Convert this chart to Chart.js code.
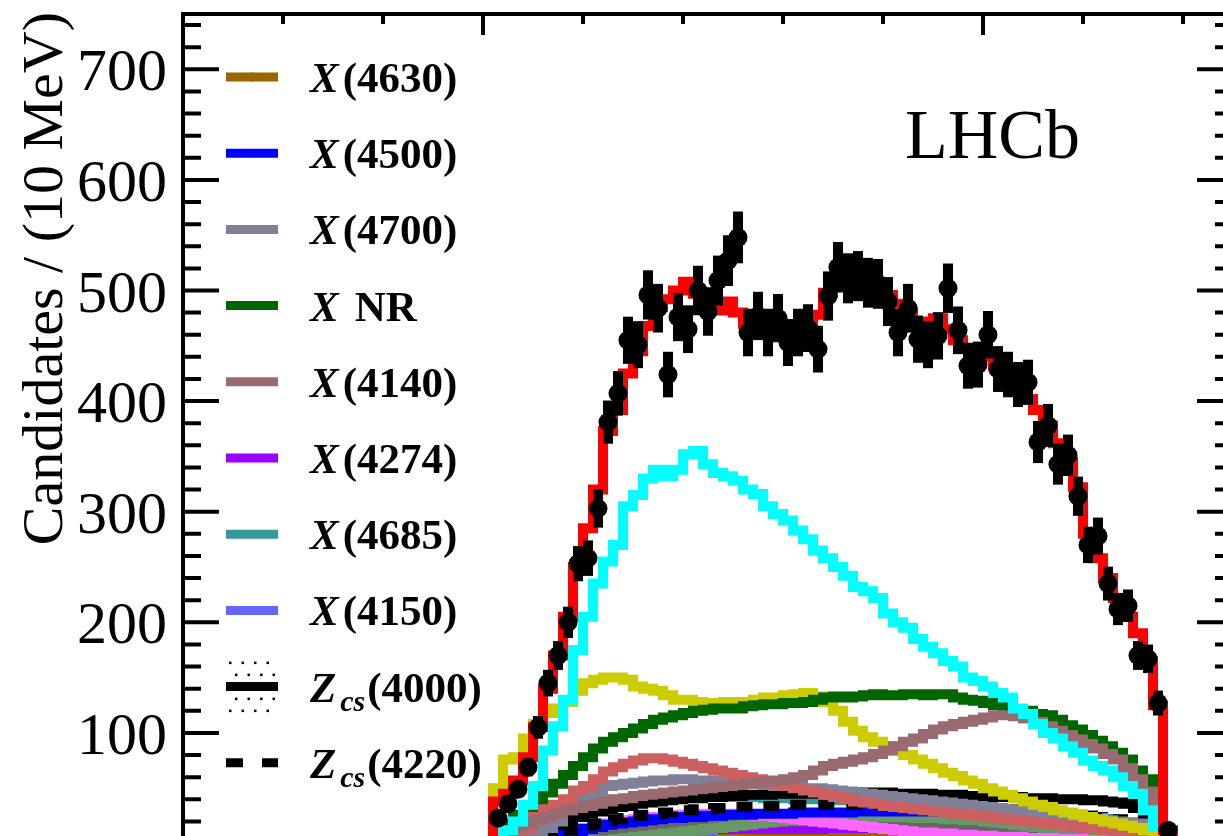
<!DOCTYPE html>
<html>
<head>
<meta charset="utf-8">
<script src="https://cdn.jsdelivr.net/npm/chart.js@4.4.0/dist/chart.umd.min.js"></script>
<style>
  html, body { margin: 0; padding: 0; background: #fff; overflow: hidden; }
  canvas { display: block; }
</style>
</head>
<body>
<canvas id="massPlot" width="1260" height="880"></canvas>
<script>
// m(phi K+) binning, 10 MeV bins (GeV)
var binEdges = [1.51, 1.52, 1.53, 1.54, 1.55, 1.56, 1.57, 1.58, 1.59, 1.60,
  1.61, 1.62, 1.63, 1.64, 1.65, 1.66, 1.67, 1.68, 1.69, 1.70,
  1.71, 1.72, 1.73, 1.74, 1.75, 1.76, 1.77, 1.78, 1.79, 1.80,
  1.81, 1.82, 1.83, 1.84, 1.85, 1.86, 1.87, 1.88, 1.89, 1.90,
  1.91, 1.92, 1.93, 1.94, 1.95, 1.96, 1.97, 1.98, 1.99, 2.00,
  2.01, 2.02, 2.03, 2.04, 2.05, 2.06, 2.07, 2.08, 2.09, 2.10,
  2.11, 2.12, 2.13, 2.14, 2.15, 2.16, 2.17, 2.18, 2.19];

var dataCounts = [23, 36, 49, 69, 105, 145, 170, 200, 253, 258,
  303, 381, 407, 455, 451, 496, 484, 424, 476, 465,
  500, 481, 509, 527, 548, 462, 477, 462, 475, 453,
  462, 466, 447, 495, 521, 511, 513, 507, 506, 490,
  462, 484, 456, 451, 459, 502, 464, 432, 433, 460,
  429, 424, 415, 417, 363, 378, 343, 351, 314, 270,
  278, 235, 212, 215, 170, 167, 127, 12];

var fitTotal = [38, 45, 57, 78, 105, 140, 170, 205, 250, 285,
  320, 373, 392, 425, 445, 468, 485, 492, 500, 508,
  497, 488, 482, 490, 480, 470, 478, 468, 465, 460,
  460, 465, 478, 498, 506, 510, 512, 508, 505, 496,
  488, 480, 472, 470, 475, 465, 455, 448, 445, 440,
  432, 425, 412, 402, 392, 378, 362, 345, 322, 280,
  258, 240, 222, 205, 190, 165, 125, 12];

// K* components
var kstarCyan = [5, 12, 20, 35, 52, 84, 106, 130, 175, 205,
  235, 255, 270, 305, 315, 330, 338, 332, 338, 352,
  355, 343, 335, 332, 328, 320, 316, 305, 298, 292,
  283, 275, 265, 258, 250, 242, 232, 228, 222, 208,
  200, 195, 185, 178, 172, 165, 160, 150, 147, 142,
  136, 132, 122, 117, 108, 100, 95, 88, 82, 75,
  70, 66, 60, 52, 45, 30, 15, 2];

var kstarYellow = [50, 76, 78, 95, 108, 118, 122, 128, 138, 145,
  148, 150, 150, 148, 142, 140, 138, 134, 130, 130,
  128, 127, 127, 128, 128, 128, 130, 132, 132, 134,
  135, 136, 133, 128, 120, 110, 102, 96, 92, 88,
  84, 80, 76, 72, 68, 64, 61, 57, 54, 50,
  47, 44, 41, 38, 35, 33, 30, 28, 26, 24,
  22, 20, 18, 16, 14, 12, 9, 1];

var kstarRed = [3, 8, 10, 13, 28, 32, 35, 40, 48, 52,
  58, 65, 69, 72, 75, 77, 77, 76, 74, 72,
  70, 68, 66, 64, 62, 60, 58, 56, 54, 52,
  50, 48, 46, 44, 42, 40, 38, 37, 36, 34,
  33, 32, 31, 30, 29, 28, 27, 26, 25, 24,
  23, 22, 21, 20, 19, 18, 17, 16, 15, 14,
  13, 12, 11, 10, 9, 8, 6, 1];

var kstarMagenta = [0, 1, 2, 3, 4, 6, 8, 10, 12, 14,
  16, 18, 20, 21, 22, 23, 24, 25, 26, 26,
  27, 27, 27, 27, 26, 26, 25, 25, 24, 23,
  22, 21, 20, 19, 18, 17, 16, 15, 14, 13,
  12, 11, 10, 10, 9, 9, 8, 8, 7, 7,
  6, 6, 6, 5, 5, 5, 4, 4, 4, 3,
  3, 3, 2, 2, 2, 1, 1, 0];

var kstarGray = [0, 1, 2, 3, 4, 5, 6, 7, 8, 9,
  10, 11, 12, 13, 14, 15, 16, 16, 17, 17,
  18, 18, 19, 19, 19, 19, 19, 20, 20, 20,
  20, 20, 20, 20, 20, 20, 20, 19, 19, 19,
  19, 18, 18, 18, 17, 17, 17, 16, 16, 16,
  15, 15, 15, 14, 14, 14, 13, 13, 12, 12,
  11, 11, 10, 10, 9, 8, 6, 0];

var kstarSage = [0, 0, 0, 0, 0, 0, 1, 1, 2, 2,
  3, 3, 4, 5, 6, 7, 8, 9, 10, 11,
  12, 13, 14, 15, 16, 17, 18, 19, 20, 21,
  22, 23, 23, 24, 24, 24, 24, 24, 24, 24,
  24, 24, 23, 23, 23, 22, 22, 21, 21, 20,
  19, 18, 17, 16, 15, 14, 13, 12, 11, 10,
  9, 8, 7, 6, 5, 4, 2, 0];

// X and Zcs components
var x4630 = [0, 0, 1, 1, 2, 3, 4, 5, 6, 8,
  9, 11, 12, 13, 14, 15, 15, 15, 15, 14,
  14, 13, 13, 12, 12, 11, 11, 10, 10, 9,
  9, 9, 8, 8, 8, 8, 8, 8, 8, 8,
  8, 8, 8, 8, 8, 8, 8, 8, 8, 8,
  8, 8, 8, 8, 8, 8, 8, 8, 8, 8,
  8, 8, 8, 7, 7, 6, 4, 0];

var x4500 = [0, 1, 1, 2, 3, 5, 7, 9, 11, 13,
  15, 17, 18, 19, 20, 21, 22, 23, 23, 24,
  24, 25, 25, 26, 26, 26, 27, 27, 27, 27,
  28, 28, 28, 28, 28, 28, 29, 29, 29, 29,
  29, 29, 29, 29, 29, 29, 29, 29, 29, 29,
  29, 29, 28, 28, 28, 28, 27, 27, 26, 25,
  24, 22, 20, 18, 15, 12, 7, 0];

var x4700 = [2, 4, 6, 8, 10, 14, 20, 30, 40, 43,
  45, 52, 53, 54, 55, 56, 57, 57, 58, 58,
  57, 57, 56, 56, 55, 55, 54, 53, 52, 52,
  51, 50, 50, 49, 48, 47, 46, 45, 44, 43,
  42, 41, 40, 39, 38, 37, 36, 35, 34, 33,
  32, 31, 30, 29, 28, 27, 26, 25, 24, 23,
  22, 21, 20, 19, 18, 16, 14, 1];

var xNR = [8, 18, 26, 33, 40, 46, 54, 62, 70, 78,
  86, 92, 96, 100, 104, 108, 112, 114, 116, 118,
  120, 121, 122, 122, 122, 124, 125, 126, 126, 127,
  127, 128, 130, 132, 133, 132, 133, 134, 135, 134,
  134, 135, 135, 134, 135, 135, 132, 130, 129, 127,
  125, 122, 121, 120, 117, 116, 112, 107, 103, 98,
  93, 88, 82, 76, 66, 58, 48, 2];

var x4140 = [5, 10, 14, 18, 21, 24, 27, 30, 32, 34,
  36, 38, 40, 41, 43, 44, 45, 46, 47, 48,
  49, 50, 51, 52, 53, 54, 55, 56, 57, 58,
  60, 62, 66, 70, 72, 74, 76, 78, 81, 84,
  88, 92, 95, 99, 103, 106, 108, 110, 112, 114,
  116, 116, 115, 113, 110, 106, 102, 98, 94, 90,
  86, 81, 76, 68, 58, 47, 38, 2];

var x4274 = [0, 0, 1, 1, 2, 3, 4, 5, 6, 7,
  8, 9, 10, 10, 11, 11, 12, 12, 12, 12,
  13, 13, 13, 13, 13, 13, 13, 13, 13, 13,
  13, 13, 13, 14, 14, 14, 14, 14, 14, 14,
  15, 15, 15, 15, 16, 16, 16, 17, 17, 17,
  18, 18, 18, 18, 19, 19, 19, 18, 18, 17,
  16, 15, 14, 12, 10, 8, 5, 0];

var x4685 = [1, 3, 6, 10, 14, 18, 22, 25, 28, 31,
  33, 35, 37, 39, 40, 41, 42, 42, 43, 43,
  43, 43, 43, 43, 42, 42, 42, 41, 41, 41,
  40, 40, 40, 39, 39, 39, 38, 38, 37, 37,
  36, 36, 35, 35, 34, 34, 33, 33, 32, 31,
  31, 30, 30, 29, 28, 27, 27, 26, 25, 24,
  23, 22, 21, 19, 17, 14, 9, 0];

var x4150 = [0, 0, 1, 1, 2, 2, 3, 3, 4, 4,
  5, 5, 5, 6, 6, 6, 6, 7, 7, 7,
  7, 7, 7, 7, 7, 7, 7, 7, 7, 7,
  7, 7, 7, 7, 7, 7, 7, 7, 8, 8,
  8, 8, 8, 8, 8, 8, 8, 8, 8, 8,
  8, 9, 9, 9, 9, 9, 9, 9, 9, 9,
  9, 10, 10, 10, 10, 10, 7, 0];

var zcs4000 = [2, 4, 6, 8, 11, 14, 17, 21, 24, 27,
  29, 31, 33, 34, 36, 37, 38, 39, 40, 41,
  41, 42, 42, 43, 43, 44, 44, 44, 45, 45,
  45, 45, 45, 46, 46, 46, 46, 46, 46, 46,
  45, 45, 45, 45, 44, 44, 44, 43, 43, 43,
  42, 42, 42, 41, 41, 41, 40, 40, 40, 39,
  39, 38, 37, 36, 32, 22, 10, 0];

var zcs4220 = [0, 1, 2, 4, 6, 8, 10, 12, 14, 16,
  18, 20, 22, 23, 25, 26, 27, 28, 29, 30,
  31, 31, 32, 32, 33, 33, 34, 34, 34, 35,
  35, 35, 35, 35, 35, 35, 35, 35, 35, 35,
  35, 34, 34, 34, 34, 33, 33, 33, 32, 32,
  31, 31, 30, 30, 29, 29, 28, 27, 26, 25,
  24, 23, 22, 20, 18, 14, 8, 0];

var yTickLabels = [100, 200, 300, 400, 500, 600, 700];

var FONT = '"Liberation Serif", "Times New Roman", serif';

// outline of a histogram: one flat step per bin, dropping to zero at both ends
function histPoints(values) {
  var pts = [{ x: binEdges[0], y: 0 }];
  values.forEach(function (v, i) {
    pts.push({ x: binEdges[i], y: v });
  });
  pts.push({ x: binEdges[values.length], y: values[values.length - 1] });
  pts.push({ x: binEdges[values.length], y: 0 });
  return pts;
}

function histogram(label, values, color, dash) {
  return {
    label: label,
    data: histPoints(values),
    borderColor: color,
    borderWidth: 10,
    borderDash: dash || [],
    stepped: 'before',
    pointRadius: 0,
    fill: false,
    borderJoinStyle: 'miter',
    borderCapStyle: 'butt'
  };
}

var binCenters = dataCounts.map(function (v, i) {
  return (binEdges[i] + binEdges[i + 1]) / 2;
});

var datasets = [
  {
    label: 'Data',
    data: binCenters.map(function (c, i) { return { x: c, y: dataCounts[i] }; }),
    showLine: false,
    pointRadius: 9.5,
    pointHoverRadius: 9.5,
    pointBackgroundColor: '#000',
    pointBorderWidth: 0
  },
  histogram('Total fit', fitTotal, '#ff0000'),
  histogram('K* (cyan)', kstarCyan, '#00ffff'),
  histogram('X(4140)', x4140, '#996a70'),
  histogram('X NR', xNR, '#006600'),
  histogram('K* (yellow)', kstarYellow, '#cccc00'),
  histogram('K* (red)', kstarRed, '#cc6060'),
  histogram('X(4700)', x4700, '#808099'),
  histogram('Zcs(4000)', zcs4000, '#000000'),
  histogram('Zcs(4220)', zcs4220, '#000000', [16, 12]),
  histogram('X(4685)', x4685, '#339999'),
  histogram('X(4500)', x4500, '#0000ff'),
  histogram('K* (magenta)', kstarMagenta, '#ff66ff'),
  histogram('K* (sage)', kstarSage, '#669966'),
  histogram('K* (gray)', kstarGray, '#666666'),
  histogram('X(4274)', x4274, '#9900ff'),
  histogram('X(4630)', x4630, '#996600'),
  histogram('X(4150)', x4150, '#6666ff')
];
datasets.forEach(function (d, i) { d.order = i; });

var legendRows = [
  { sym: 'X', rest: '(4630)', color: '#996600', marker: true },
  { sym: 'X', rest: '(4500)', color: '#0000ff' },
  { sym: 'X', rest: '(4700)', color: '#808099' },
  { sym: 'X', rest: 'NR', color: '#006600' },
  { sym: 'X', rest: '(4140)', color: '#996a70' },
  { sym: 'X', rest: '(4274)', color: '#9900ff' },
  { sym: 'X', rest: '(4685)', color: '#339999' },
  { sym: 'X', rest: '(4150)', color: '#6666ff' },
  { sym: 'Z', sub: 'cs', rest: '(4000)', color: '#000000', band: true },
  { sym: 'Z', sub: 'cs', rest: '(4220)', color: '#000000', dash: [17, 19] }
];

function drawLegend(ctx) {
  var x0 = 226, x1 = 278, top = 77, step = 76.2;
  legendRows.forEach(function (row, i) {
    var y = top + i * step;
    ctx.save();
    if (row.band) {
      ctx.fillStyle = '#000';
      for (var r = 0; r < 5; r++) {
        for (var c = 0; c < 5; c++) {
          var dx = x0 + 3 + c * 12.5 + (r % 2 ? 6 : 0);
          if (dx > x1) continue;
          ctx.fillRect(dx, y - 25 + r * 12, 2.5, 2.5);
        }
      }
    }
    ctx.strokeStyle = row.color;
    ctx.lineWidth = 9;
    ctx.lineCap = 'butt';
    ctx.setLineDash(row.dash || []);
    ctx.beginPath();
    ctx.moveTo(x0, y);
    ctx.lineTo(x1, y);
    ctx.stroke();
    ctx.setLineDash([]);
    if (row.marker) {
      ctx.fillStyle = row.color;
      ctx.beginPath();
      ctx.arc((x0 + x1) / 2, y, 4.5, 0, Math.PI * 2);
      ctx.fill();
    }

    var base = y + 15;
    var tx = 310;
    ctx.fillStyle = '#000';
    ctx.textBaseline = 'alphabetic';
    ctx.textAlign = 'left';
    ctx.font = 'italic bold 43px ' + FONT;
    ctx.fillText(row.sym, tx, base);
    tx += ctx.measureText(row.sym).width;
    if (row.sub) {
      tx += 4;
      ctx.font = 'italic bold 30px ' + FONT;
      ctx.fillText(row.sub, tx, base + 9);
      tx += ctx.measureText(row.sub).width + 2;
    } else {
      tx += row.rest.charAt(0) === '(' ? 4 : 16;
    }
    ctx.font = 'bold 43px ' + FONT;
    ctx.fillText(row.rest, tx, base);
    ctx.restore();
  });
}

var framePlugin = {
  id: 'framePlugin',
  afterDatasetsDraw: function (chart) {
    // Poisson error bars on the data points
    var ctx = chart.ctx, xs = chart.scales.x, ys = chart.scales.y, area = chart.chartArea;
    ctx.save();
    ctx.beginPath();
    ctx.rect(area.left, area.top, area.right - area.left, area.bottom - area.top);
    ctx.clip();
    ctx.fillStyle = '#000';
    dataCounts.forEach(function (n, i) {
      var err = Math.sqrt(n);
      var px = xs.getPixelForValue(binCenters[i]);
      var yTop = ys.getPixelForValue(n + err);
      var yBot = ys.getPixelForValue(Math.max(n - err, 0));
      ctx.fillRect(px - 5, yTop, 10, yBot - yTop);
    });
    ctx.restore();
  },
  afterDraw: function (chart) {
    var ctx = chart.ctx, xs = chart.scales.x, ys = chart.scales.y, a = chart.chartArea;
    ctx.save();
    ctx.strokeStyle = '#000';
    ctx.lineWidth = 4;
    ctx.strokeRect(a.left, a.top, a.right - a.left, a.bottom - a.top);

    // y ticks on both sides, pointing inwards
    for (var v = 0; v <= 740; v += 20) {
      var py = ys.getPixelForValue(v);
      var len = v % 100 === 0 ? 36 : 18;
      ctx.beginPath();
      ctx.moveTo(a.left, py); ctx.lineTo(a.left + len, py);
      ctx.moveTo(a.right, py); ctx.lineTo(a.right - len, py);
      ctx.stroke();
    }
    // x ticks along the top edge
    for (var k = 13; k <= 22; k++) {
      var px = xs.getPixelForValue(k / 10);
      var tl = k % 5 === 0 ? 21 : 10;
      ctx.beginPath();
      ctx.moveTo(px, a.top); ctx.lineTo(px, a.top + tl);
      ctx.stroke();
    }

    ctx.fillStyle = '#000';
    ctx.font = '60px ' + FONT;
    ctx.textAlign = 'right';
    ctx.textBaseline = 'alphabetic';
    yTickLabels.forEach(function (t) {
      ctx.fillText(String(t), 167, ys.getPixelForValue(t) + 21);
    });

    ctx.save();
    ctx.translate(62, 12);
    ctx.rotate(-Math.PI / 2);
    ctx.font = '58px ' + FONT;
    ctx.textAlign = 'right';
    ctx.fillText('Candidates / (10 MeV)', 0, 0);
    ctx.restore();

    ctx.font = '70px ' + FONT;
    ctx.textAlign = 'left';
    ctx.fillText('LHCb', 905, 158);

    drawLegend(ctx);
    ctx.restore();
  }
};

new Chart(document.getElementById('massPlot').getContext('2d'), {
  type: 'line',
  data: { datasets: datasets },
  options: {
    responsive: false,
    animation: false,
    devicePixelRatio: 1,
    layout: { padding: { left: 183, top: 14, right: 27, bottom: 36.5 } },
    plugins: { legend: { display: false }, tooltip: { enabled: false } },
    scales: {
      x: { type: 'linear', min: 1.2, max: 2.25, display: false },
      y: { type: 'linear', min: 0, max: 750, display: false }
    }
  },
  plugins: [framePlugin]
});
</script>
</body>
</html>
